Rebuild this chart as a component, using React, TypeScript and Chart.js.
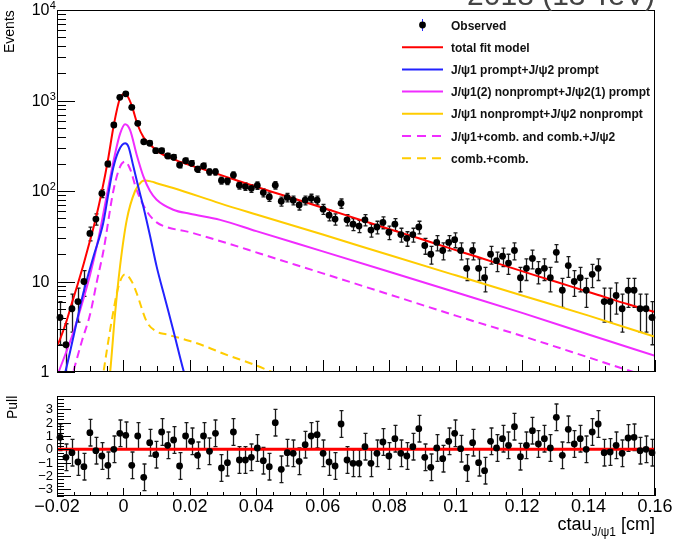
import React, { useEffect, useRef } from "react";
import { Chart, registerables } from "chart.js";

Chart.register(...registerables);

const FONT = '"Liberation Sans", Arial, Helvetica, sans-serif';

// ---- histogram binning (100 bins from -0.02 to 0.16) ----
const binLow = -0.02;
const binWidth = 0.0018;

// ---- observed events per bin ----
const observedCounts = [
  4, 2, 5, 6, 10, 34, 49, 94, 199, 536,
  1085, 1186, 841, 560, 350, 337, 279, 279, 244, 236,
  194, 216, 202, 174, 189, 163, 163, 131, 129, 150,
  116, 112, 107, 115, 96, 86, 116, 77, 85, 79,
  70, 79, 83, 79, 63, 54, 49, 73, 48, 43,
  41, 48, 37, 40, 45, 35, 43, 33, 30, 33,
  40, 25, 20, 27, 22, 27, 29, 22, 14, 22,
  14, 11, 20, 17, 19, 16, 22, 11, 14, 18,
  13, 14, 11, 21, 8, 15, 10, 11, 8, 12,
  14, 6, 6, 7, 5, 8, 8, 5, 5, 4,
];

// ---- pulls per bin ----
const pullValues = [
  0.9, -0.6, -0.25, -0.95, -1.3, 1.25, -0.1, -0.5, -1.2, 0,
  1.2, 1.05, -1.2, 1.0, -2.1, 0.5, -0.4, 1.3, 0.3, 0.7,
  -1.25, 1.0, 0.6, -0.45, 1.0, -0.15, 1.2, -1.4, -1.0, 1.3,
  -0.8, -0.8, -0.6, 0.1, -0.85, -1.3, 2.0, -1.5, -0.25, -0.3,
  -0.9, 0.35, 1.0, 1.1, -0.3, -0.95, -1.25, 1.9, -0.8, -1.05,
  -1.05, 0.2, -1.05, -0.3, 0.55, -0.5, 0.8, -0.3, -0.5, 0.2,
  1.55, -0.6, -1.35, 0.1, -0.7, 0.6, 1.2, 0.05, -1.4, 0.5,
  -1.0, -1.6, 0.6, 0.1, 0.8, 0.3, 1.7, -0.55, 0.3, 1.4,
  0.4, 0.8, 0.1, 2.4, -0.45, 1.5, 0.4, 0.8, 0, 1.3,
  1.9, -0.25, -0.2, 0.3, -0.3, 0.85, 0.9, -0.1, 0, -0.25,
];
const pullError = 1;

// ---- fit curves ----
const totalFitX = [-0.02, -0.0191, -0.0173, -0.0155, -0.0137, -0.0119, -0.0101, -0.0083, -0.0065, -0.0047, -0.0029, -0.0011, 0.0003, 0.0012, 0.0025, 0.0043, 0.0061, 0.0079, 0.0097, 0.0115, 0.0133, 0.0151, 0.0169, 0.0259, 0.0349, 0.0439, 0.0529, 0.0619, 0.0709, 0.0799, 0.0889, 0.0979, 0.1069, 0.1159, 0.1249, 0.1339, 0.1429, 0.1519, 0.16];
const totalFitY = [1.95, 2.3, 3.5, 5.8, 9.5, 16, 28, 50, 99, 216, 536, 1045, 1180, 1120, 876, 536, 389, 328, 286, 257, 239, 225, 211, 165, 128, 100, 79, 62, 48.5, 38, 30, 23.5, 18.5, 14.5, 11.4, 9.0, 7.1, 5.6, 4.6];

const promptX = [-0.0185, -0.0175, -0.015, -0.0121, -0.009, -0.0061, -0.0045, -0.0031, -0.0015, 0.0005, 0.0015, 0.003, 0.0045, 0.006, 0.008, 0.01, 0.0125, 0.015, 0.0182, 0.02];
const promptY = [0.75, 1.0, 2.5, 7.4, 19, 44, 95, 178, 275, 336, 310, 186, 110, 67, 32, 14.6, 6.5, 2.9, 1.0, 0.6];

const mixedX = [-0.0205, -0.0195, -0.015, -0.012, -0.01, -0.0075, -0.005, -0.0025, -0.001, 0.0005, 0.002, 0.004, 0.006, 0.008, 0.01, 0.015, 0.02, 0.0291, 0.04, 0.06, 0.08, 0.1, 0.12, 0.14, 0.16];
const mixedY = [0.8, 1.0, 2.8, 6.5, 12, 30, 90, 260, 430, 545, 470, 250, 145, 100, 80, 62, 56, 48, 36, 21.5, 12.8, 7.6, 4.5, 2.6, 1.51];

const nonpromptX = [-0.0045, -0.004, -0.0025, -0.001, 0.001, 0.0035, 0.0055, 0.0065, 0.0085, 0.01, 0.015, 0.0291, 0.04, 0.06, 0.08, 0.1, 0.12, 0.14, 0.16];
const nonpromptY = [0.7, 1.0, 4.5, 15, 48, 100, 127, 131, 127, 122, 108, 73, 55, 33, 19.6, 11.7, 7.0, 4.2, 2.45];

const psiCombX = [-0.016, -0.0151, -0.0125, -0.01, -0.008, -0.006, -0.003, -0.001, 0.0005, 0.002, 0.004, 0.007, 0.01, 0.013, 0.02, 0.025, 0.032, 0.041, 0.06, 0.08, 0.1, 0.12, 0.14, 0.1535, 0.16];
const psiCombY = [0.75, 1.0, 2.2, 4.4, 10, 22, 102, 186, 211, 175, 102, 60, 45, 40, 35, 31, 26, 20.4, 12.3, 7.2, 4.2, 2.5, 1.45, 1.0, 0.85];

const combCombX = [-0.0065, -0.006, -0.0035, -0.0015, 0.0005, 0.0025, 0.004, 0.007, 0.01, 0.013, 0.02, 0.025, 0.03, 0.04, 0.0447, 0.06];
const combCombY = [0.75, 1.0, 3.75, 8.8, 12, 10, 7.4, 3.6, 2.8, 2.6, 2.2, 1.9, 1.6, 1.18, 1.0, 0.6];

// ---- axes ----
const xMin = -0.02;
const xMax = 0.16;
const xMajorTicks = [-0.02, 0, 0.02, 0.04, 0.06, 0.08, 0.1, 0.12, 0.14, 0.16];
const xMajorLabels = ["\u22120.02", "0", "0.02", "0.04", "0.06", "0.08", "0.1", "0.12", "0.14", "0.16"];
const xMinorStep = 0.005;
const yMajorTicks = [1, 10, 100, 1000, 10000];
const yLabelBase = ["1", "10", "10", "10", "10"];
const yLabelExp = ["", "", "2", "3", "4"];
const pullMin = -3.5;
const pullMax = 4;
const pullMajorTicks = [-3, -2, -1, 0, 1, 2, 3];
const pullLabels = ["\u22123", "\u22122", "\u22121", "0", "1", "2", "3"];
const pullMinorStep = 0.25;

// ---- series styling ----
const seriesLabels = [
  "Observed",
  "total fit model",
  "J/\u03c81 prompt+J/\u03c82 prompt",
  "J/\u03c81(2) nonprompt+J/\u03c82(1) prompt",
  "J/\u03c81 nonprompt+J/\u03c82 nonprompt",
  "J/\u03c81+comb. and comb.+J/\u03c82",
  "comb.+comb.",
];
const seriesColors = ["#000000", "#ff0000", "#2222ff", "#f02cff", "#ffcc00", "#f02cff", "#ffcc00"];
const seriesDashed = [false, false, false, false, false, true, true];

const curveXs = [totalFitX, promptX, mixedX, nonpromptX, psiCombX, combCombX];
const curveYs = [totalFitY, promptY, mixedY, nonpromptY, psiCombY, combCombY];

function binCenter(i: number) {
  return binLow + binWidth * (i + 0.5);
}

function makeErrorBarPlugin(errors: number[], isLog: boolean) {
  return {
    id: "errorBars",
    beforeDatasetsDraw(chart: any) {
      const { ctx, chartArea: a, scales } = chart;
      const ys = scales.y;
      const meta = chart.getDatasetMeta(0);
      const data = chart.data.datasets[0].data;
      ctx.save();
      ctx.beginPath();
      ctx.rect(a.left, a.top, a.right - a.left, a.bottom - a.top);
      ctx.clip();
      ctx.strokeStyle = "#1a1a1a";
      ctx.lineWidth = 1.3;
      meta.data.forEach((pt: any, i: number) => {
        const v = data[i].y;
        const e = errors[i];
        const yTop = ys.getPixelForValue(v + e);
        const lo = v - e;
        const yBot = isLog && lo <= 0 ? a.bottom + 20 : ys.getPixelForValue(lo);
        const x = Math.round(pt.x) + 0.5;
        ctx.beginPath();
        ctx.moveTo(x, yTop);
        ctx.lineTo(x, yBot);
        ctx.moveTo(x - 2, yTop);
        ctx.lineTo(x + 2, yTop);
        ctx.moveTo(x - 2, yBot);
        ctx.lineTo(x + 2, yBot);
        ctx.stroke();
      });
      ctx.restore();
    },
  };
}

function drawXTicks(ctx: any, a: any, xs: any, majorLen: number, minorLen: number) {
  ctx.beginPath();
  for (let k = 0; k <= Math.round((xMax - xMin) / xMinorStep); k++) {
    const v = xMin + k * xMinorStep;
    const px = Math.round(xs.getPixelForValue(v)) + 0.5;
    ctx.moveTo(px, a.bottom);
    ctx.lineTo(px, a.bottom - minorLen);
  }
  xMajorTicks.forEach((v) => {
    const px = Math.round(xs.getPixelForValue(v)) + 0.5;
    ctx.moveTo(px, a.bottom);
    ctx.lineTo(px, a.bottom - majorLen);
  });
  ctx.stroke();
}

const mainFramePlugin = {
  id: "mainFrame",
  afterDraw(chart: any) {
    const { ctx, chartArea: a, scales } = chart;
    const xs = scales.x;
    const ys = scales.y;
    ctx.save();
    ctx.strokeStyle = "#000";
    ctx.lineWidth = 1;
    ctx.strokeRect(a.left + 0.5, a.top + 0.5, a.right - a.left - 1, a.bottom - a.top - 1);
    drawXTicks(ctx, a, xs, 12, 6);
    ctx.beginPath();
    for (let d = 0; d < yMajorTicks.length - 1; d++) {
      for (let m = 2; m <= 9; m++) {
        const py = Math.round(ys.getPixelForValue(yMajorTicks[d] * m)) + 0.5;
        ctx.moveTo(a.left, py);
        ctx.lineTo(a.left + 9, py);
      }
    }
    yMajorTicks.forEach((v) => {
      const py = Math.round(ys.getPixelForValue(v)) + 0.5;
      ctx.moveTo(a.left, py);
      ctx.lineTo(a.left + 18, py);
    });
    ctx.stroke();
    ctx.fillStyle = "#000";
    yMajorTicks.forEach((v, i) => {
      const py = ys.getPixelForValue(v);
      ctx.font = `16px ${FONT}`;
      ctx.textAlign = "right";
      ctx.textBaseline = "middle";
      ctx.fillText(yLabelBase[i], a.left - 7.5, py + 1);
      if (yLabelExp[i]) {
        ctx.font = `11px ${FONT}`;
        ctx.textAlign = "left";
        ctx.fillText(yLabelExp[i], a.left - 7.2, py - 4);
      }
    });
    ctx.restore();
  },
};

const pullFramePlugin = {
  id: "pullFrame",
  afterDraw(chart: any) {
    const { ctx, chartArea: a, scales } = chart;
    const xs = scales.x;
    const ys = scales.y;
    ctx.save();
    ctx.strokeStyle = "#000";
    ctx.lineWidth = 1;
    ctx.strokeRect(a.left + 0.5, a.top + 0.5, a.right - a.left - 1, a.bottom - a.top - 1);
    drawXTicks(ctx, a, xs, 8, 4);
    ctx.beginPath();
    for (let k = 0; k <= Math.round((pullMax - pullMin) / pullMinorStep); k++) {
      const v = pullMin + k * pullMinorStep;
      const py = Math.round(ys.getPixelForValue(v)) + 0.5;
      ctx.moveTo(a.left, py);
      ctx.lineTo(a.left + 7, py);
    }
    pullMajorTicks.forEach((v) => {
      const py = Math.round(ys.getPixelForValue(v)) + 0.5;
      ctx.moveTo(a.left, py);
      ctx.lineTo(a.left + 14, py);
    });
    ctx.stroke();
    ctx.fillStyle = "#000";
    ctx.font = `13px ${FONT}`;
    ctx.textAlign = "right";
    ctx.textBaseline = "middle";
    pullMajorTicks.forEach((v, i) => {
      ctx.fillText(pullLabels[i], a.left - 4, ys.getPixelForValue(v) + 0.5);
    });
    ctx.font = `18px ${FONT}`;
    ctx.textAlign = "center";
    xMajorTicks.forEach((v, i) => {
      ctx.fillText(xMajorLabels[i], xs.getPixelForValue(v), a.bottom + 11);
    });
    ctx.restore();
  },
};

export default function App() {
  const mainRef = useRef<HTMLCanvasElement | null>(null);
  const pullRef = useRef<HTMLCanvasElement | null>(null);

  useEffect(() => {
    const observed = observedCounts.map((c, i) => ({ x: binCenter(i), y: c }));
    const observedErr = observedCounts.map((c) => Math.sqrt(c));
    const curveSets = curveXs.map((xsArr, k) => ({
      label: seriesLabels[k + 1],
      data: xsArr.map((x, i) => ({ x, y: curveYs[k][i] })),
      showLine: true,
      borderColor: seriesColors[k + 1],
      backgroundColor: seriesColors[k + 1],
      borderWidth: 2,
      borderDash: seriesDashed[k + 1] ? [8, 5] : [],
      pointRadius: 0,
      cubicInterpolationMode: "monotone" as const,
      fill: false,
      clip: 0,
    }));

    const main = new Chart(mainRef.current as HTMLCanvasElement, {
      type: "scatter",
      data: {
        datasets: [
          {
            label: seriesLabels[0],
            data: observed,
            showLine: false,
            pointRadius: 3.4,
            pointBackgroundColor: "#000",
            pointBorderWidth: 0,
            clip: false as any,
          },
          ...curveSets,
        ] as any,
      },
      options: {
        responsive: false,
        animation: false,
        devicePixelRatio: 1,
        events: [],
        layout: { padding: { left: 57, right: 32, top: 10, bottom: 13 } },
        scales: {
          x: { type: "linear", min: xMin, max: xMax, display: false },
          y: { type: "logarithmic", min: 1, max: 10000, display: false },
        },
        plugins: { legend: { display: false }, tooltip: { enabled: false } },
      },
      plugins: [makeErrorBarPlugin(observedErr, true), mainFramePlugin],
    });

    const pullPoints = pullValues.map((p, i) => ({ x: binCenter(i), y: p }));
    const pullErrs = pullValues.map(() => pullError);
    const pull = new Chart(pullRef.current as HTMLCanvasElement, {
      type: "scatter",
      data: {
        datasets: [
          {
            label: "Pull",
            data: pullPoints,
            showLine: false,
            pointRadius: 3.4,
            pointBackgroundColor: "#000",
            pointBorderWidth: 0,
            clip: false as any,
          },
          {
            label: "zero",
            data: [
              { x: xMin, y: 0 },
              { x: xMax, y: 0 },
            ],
            showLine: true,
            borderColor: "#ff0000",
            borderWidth: 3,
            pointRadius: 0,
            clip: 0,
          },
        ] as any,
      },
      options: {
        responsive: false,
        animation: false,
        devicePixelRatio: 1,
        events: [],
        layout: { padding: { left: 57, right: 32, top: 11, bottom: 43 } },
        scales: {
          x: { type: "linear", min: xMin, max: xMax, display: false },
          y: { type: "linear", min: pullMin, max: pullMax, display: false },
        },
        plugins: { legend: { display: false }, tooltip: { enabled: false } },
      },
      plugins: [makeErrorBarPlugin(pullErrs, false), pullFramePlugin],
    });

    return () => {
      main.destroy();
      pull.destroy();
    };
  }, []);

  const rowY = (k: number) => 25 + 22.2 * k;

  return (
    <div
      style={{
        position: "absolute",
        left: 0,
        top: 0,
        width: 687,
        height: 539,
        overflow: "hidden",
        background: "#fff",
        fontFamily: FONT,
        color: "#000",
      }}
    >
      <canvas ref={mainRef} width={687} height={385} style={{ position: "absolute", left: 0, top: 0, width: 687, height: 385 }} />
      <canvas ref={pullRef} width={687} height={154} style={{ position: "absolute", left: 0, top: 385, width: 687, height: 154 }} />

      {/* title, cut at the top edge */}
      <div style={{ position: "absolute", right: 32, top: -20.4, fontSize: 30, lineHeight: "30px", color: "#444", whiteSpace: "nowrap" }}>
        2018 (13 TeV)
      </div>

      {/* axis titles */}
      <div
        style={{
          position: "absolute",
          left: 1.5,
          top: 52.8,
          fontSize: 14,
          lineHeight: "14px",
          whiteSpace: "nowrap",
          transform: "rotate(-90deg)",
          transformOrigin: "0 0",
        }}
      >
        Events
      </div>
      <div
        style={{
          position: "absolute",
          left: 5,
          top: 419.3,
          fontSize: 14,
          lineHeight: "14px",
          whiteSpace: "nowrap",
          transform: "rotate(-90deg)",
          transformOrigin: "0 0",
        }}
      >
        Pull
      </div>
      <div style={{ position: "absolute", right: 32, top: 514.8, fontSize: 18, lineHeight: "18px", whiteSpace: "nowrap" }}>
        ctau
        <span style={{ fontSize: 12, lineHeight: "12px", verticalAlign: "-6px" }}>J/{"\u03c8"}1</span> [cm]
      </div>

      {/* legend */}
      <svg width={60} height={170} style={{ position: "absolute", left: 395, top: 10 }}>
        <line x1={27.5} x2={27.5} y1={rowY(0) - 10 - 6} y2={rowY(0) - 10 + 6} stroke="#2222ff" strokeWidth={1} />
        <circle cx={27.5} cy={rowY(0) - 10} r={3.4} fill="#000" />
        {seriesLabels.slice(1).map((_, k) => (
          <line
            key={k}
            x1={7}
            x2={48}
            y1={rowY(k + 1) - 10}
            y2={rowY(k + 1) - 10}
            stroke={seriesColors[k + 1]}
            strokeWidth={2}
            strokeDasharray={seriesDashed[k + 1] ? "9 6" : undefined}
          />
        ))}
      </svg>
      {seriesLabels.map((lab, k) => (
        <div
          key={lab}
          style={{
            position: "absolute",
            left: 451,
            top: rowY(k) + 4.8 - 10.16,
            fontSize: 12,
            lineHeight: "12px",
            fontWeight: "bold",
            whiteSpace: "nowrap",
            color: "#111",
          }}
        >
          {lab}
        </div>
      ))}
    </div>
  );
}
